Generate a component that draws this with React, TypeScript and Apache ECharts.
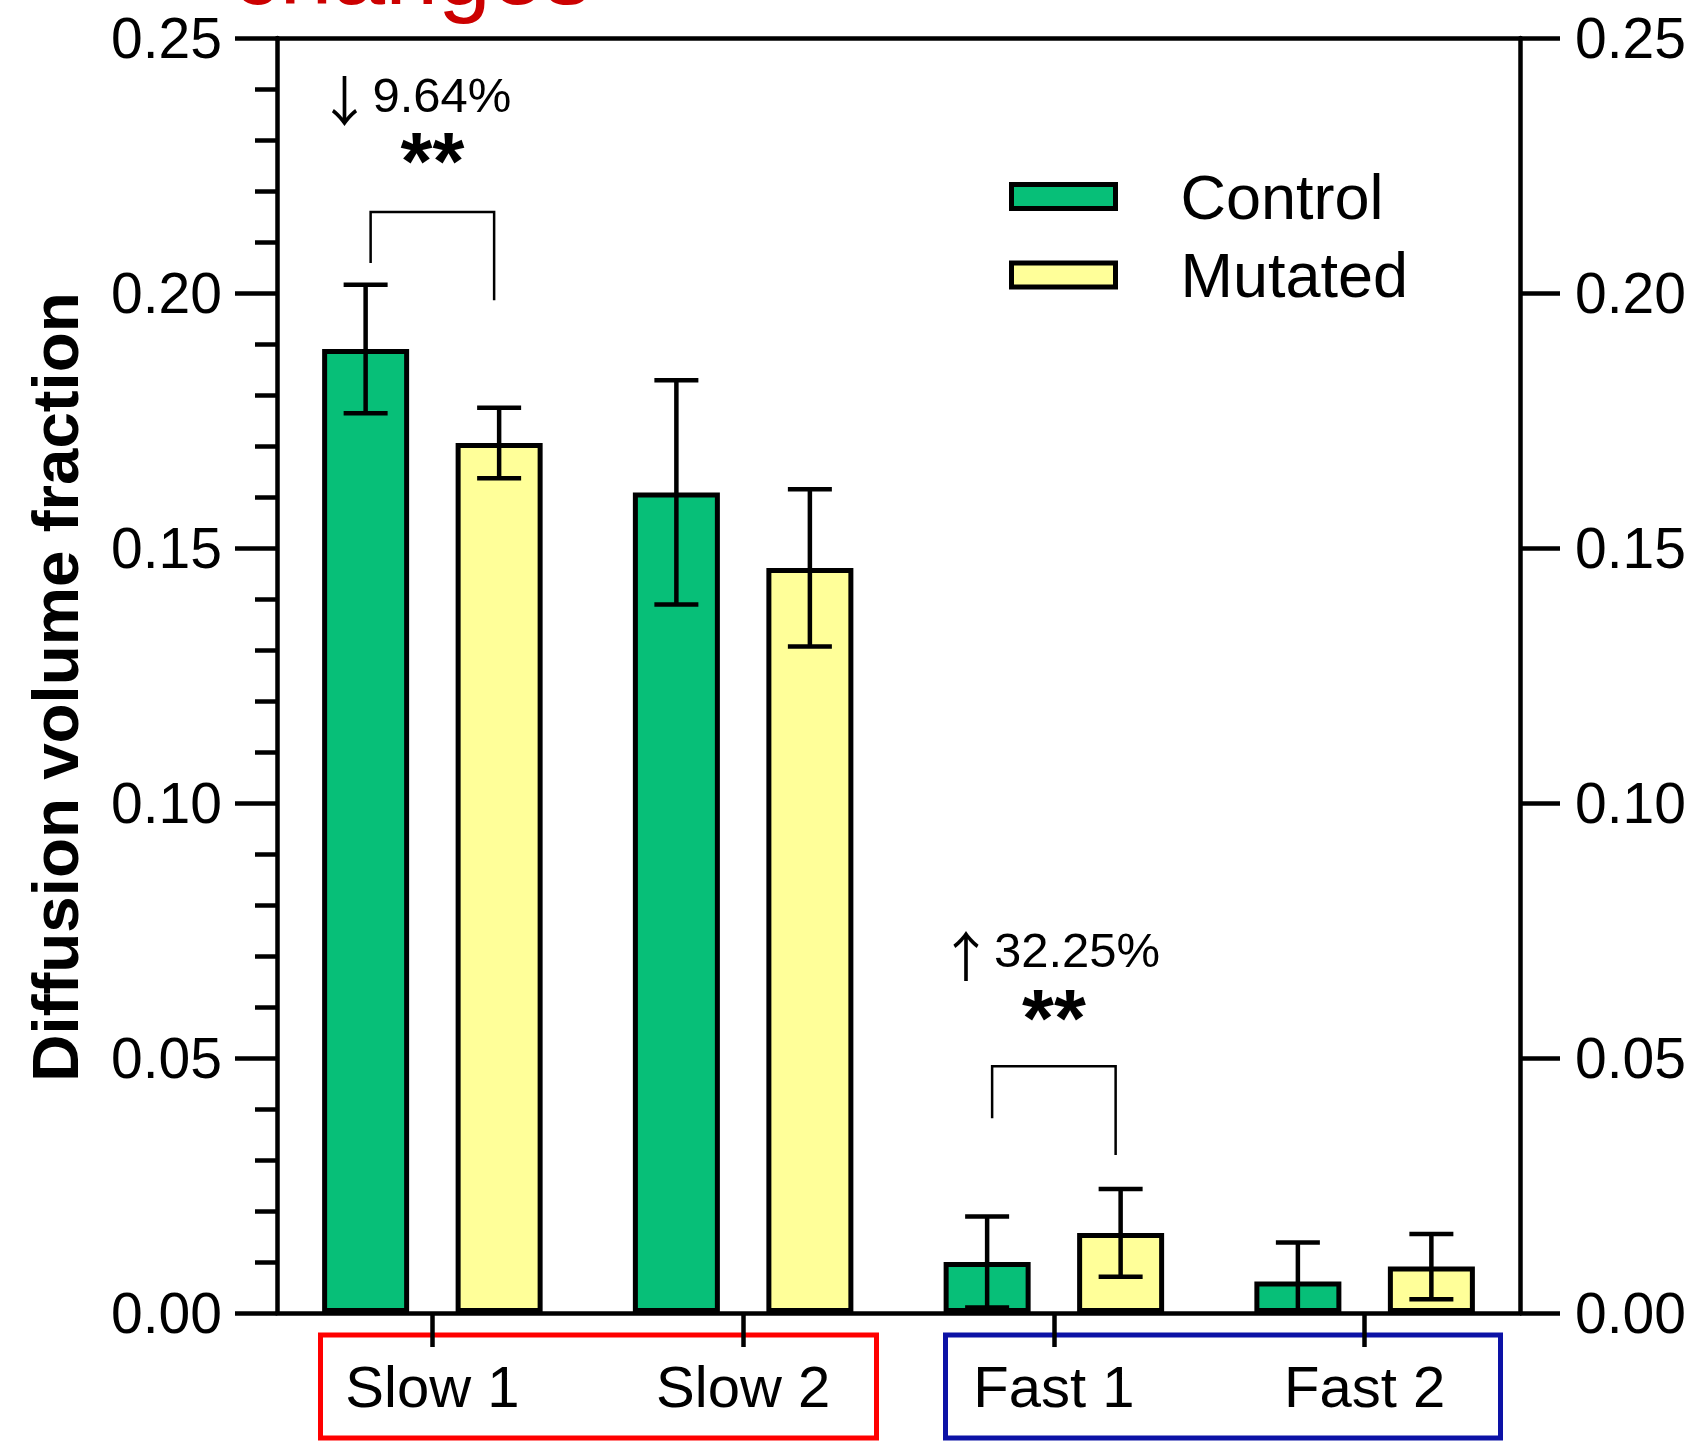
import React, { useEffect, useRef } from "react";
import * as echarts from "echarts";

// ---- data ----
const categories = ["Slow 1", "Slow 2", "Fast 1", "Fast 2"];
const seriesNames = ["Control", "Mutated"];
const controlMean = [0.189, 0.1609, 0.01, 0.0062];
const controlErr = [0.0126, 0.022, 0.0089, 0.0076];
const mutatedMean = [0.1706, 0.1461, 0.0157, 0.0091];
const mutatedErr = [0.0069, 0.0154, 0.0086, 0.0064];
const yTickLabels = ["0.00", "0.05", "0.10", "0.15", "0.20", "0.25"];
// annotations
const annotationArrows = ["\u2193", "\u2191"];
const annotationTexts = ["9.64%", "32.25%"];
const annotationStars = ["**", "**"];
const annotationCats = [0, 2];
const annotationTextY = [0.2389, 0.0712];
const annotationStarsY = [0.2278, 0.0598];
const bracketTop = [0.2159, 0.0484];
const bracketLeftBottom = [0.2059, 0.0382];
const bracketRightBottom = [0.1986, 0.031];
const topNote = "changes";

// ---- style ----
const FONT = "Liberation Sans, Arial, Helvetica, sans-serif";
const GREEN = "#07BF78";
const YELLOW = "#FFFF99";
const BAR_W = 87;
const BAR_GAP = 46.5;
const OFF = (BAR_W + BAR_GAP) / 2;
const LW = 4.5;

function errorRender(offset: number) {
  return (params: any, api: any) => {
    const c = api.value(0);
    const m = api.value(1);
    const e = api.value(2);
    const x = api.coord([c, m])[0] + offset;
    const yHi = api.coord([c, m + e])[1];
    const yLo = api.coord([c, m - e])[1];
    const cap = 22;
    const st = { stroke: "#000", lineWidth: LW, fill: null };
    return {
      type: "group",
      children: [
        { type: "line", shape: { x1: x, y1: yHi, x2: x, y2: yLo }, style: st },
        { type: "line", shape: { x1: x - cap, y1: yHi, x2: x + cap, y2: yHi }, style: st },
        { type: "line", shape: { x1: x - cap, y1: yLo, x2: x + cap, y2: yLo }, style: st },
      ],
    };
  };
}

export default function App() {
  const ref = useRef<HTMLDivElement>(null);
  useEffect(() => {
    if (!ref.current) return;
    const chart = echarts.init(ref.current, null, { renderer: "svg" });

    const annotationData = annotationCats.map((c, i) => [
      c,
      annotationTextY[i],
      annotationStarsY[i],
      bracketTop[i],
      bracketLeftBottom[i],
      bracketRightBottom[i],
    ]);

    const option: any = {
      animation: false,
      backgroundColor: "#fff",
      grid: { left: 277, right: 170, top: 38, bottom: 128, outerBoundsMode: "none", containLabel: false },
      legend: {
        data: seriesNames,
        orient: "vertical",
        left: 1009,
        top: 165,
        padding: 0,
        itemGap: 15.5,
        itemWidth: 104,
        itemHeight: 24,
        icon: "rect",
        itemStyle: { borderColor: "#000", borderWidth: 5 },
        textStyle: { fontSize: 63, lineHeight: 63, fontFamily: FONT, color: "#000", padding: [0, 0, 0, 60] },
        selectedMode: false,
      },
      xAxis: [
        {
          type: "category",
          data: categories,
          position: "bottom",
          axisLine: { show: true, lineStyle: { color: "#000", width: LW } },
          axisTick: { show: true, alignWithLabel: true, length: 34, lineStyle: { color: "#000", width: LW } },
          axisLabel: { fontSize: 58, fontFamily: FONT, color: "#000", margin: 44, interval: 0 },
          splitLine: { show: false },
        },
        {
          type: "category",
          data: categories,
          position: "top",
          axisLine: { show: true, onZero: false, lineStyle: { color: "#000", width: LW } },
          axisTick: { show: false },
          axisLabel: { show: false },
        },
      ],
      yAxis: [
        {
          type: "value",
          position: "left",
          min: 0,
          max: 0.25,
          interval: 0.05,
          name: "Diffusion volume fraction",
          nameLocation: "middle",
          nameGap: 189,
          nameTextStyle: { fontSize: 65.5, fontWeight: "bold", fontFamily: FONT, color: "#000", padding: [0, 23, 0, 0] },
          axisLine: { show: true, lineStyle: { color: "#000", width: LW } },
          axisTick: { show: true, length: 42, lineStyle: { color: "#000", width: LW } },
          minorTick: { show: true, splitNumber: 5, length: 22, lineStyle: { color: "#000", width: LW } },
          axisLabel: {
            fontSize: 57,
            fontFamily: FONT,
            color: "#000",
            margin: 55,
            formatter: (v: number) => yTickLabels[Math.round(v / 0.05)],
          },
          splitLine: { show: false },
          minorSplitLine: { show: false },
        },
        {
          type: "value",
          position: "right",
          min: 0,
          max: 0.25,
          interval: 0.05,
          axisLine: { show: true, lineStyle: { color: "#000", width: LW } },
          axisTick: { show: true, length: 40, lineStyle: { color: "#000", width: LW } },
          axisLabel: {
            fontSize: 57,
            fontFamily: FONT,
            color: "#000",
            margin: 55,
            formatter: (v: number) => yTickLabels[Math.round(v / 0.05)],
          },
          splitLine: { show: false },
        },
      ],
      series: [
        {
          name: seriesNames[0],
          type: "bar",
          data: controlMean,
          barWidth: BAR_W,
          barGap: (BAR_GAP / BAR_W) * 100 + "%",
          itemStyle: { color: GREEN, borderColor: "#000", borderWidth: 5 },
          z: 2,
        },
        {
          name: seriesNames[1],
          type: "bar",
          data: mutatedMean,
          barWidth: BAR_W,
          barGap: (BAR_GAP / BAR_W) * 100 + "%",
          itemStyle: { color: YELLOW, borderColor: "#000", borderWidth: 5 },
          z: 2,
        },
        {
          type: "custom",
          name: "errControl",
          data: controlMean.map((m, i) => [i, m, controlErr[i]]),
          encode: { x: 0, y: 1 },
          renderItem: errorRender(-OFF),
          clip: true,
          z: 5,
        },
        {
          type: "custom",
          name: "errMutated",
          data: mutatedMean.map((m, i) => [i, m, mutatedErr[i]]),
          encode: { x: 0, y: 1 },
          renderItem: errorRender(OFF),
          clip: true,
          z: 5,
        },
        {
          type: "custom",
          name: "annotations",
          data: annotationData,
          encode: { x: 0, y: 1 },
          z: 6,
          renderItem: (params: any, api: any) => {
            const i = params.dataIndex;
            const c = api.value(0);
            const cx = api.coord([c, 0])[0];
            const yText = api.coord([c, api.value(1)])[1];
            const yStars = api.coord([c, api.value(2)])[1];
            const yTop = api.coord([c, api.value(3)])[1];
            const yLB = api.coord([c, api.value(4)])[1];
            const yRB = api.coord([c, api.value(5)])[1];
            const bo = OFF - 5;
            const starSize = 82;
            const textLeft = cx - 60;
            return {
              type: "group",
              children: [
                {
                  type: "polyline",
                  shape: { points: [[cx - bo, yLB], [cx - bo, yTop], [cx + bo, yTop], [cx + bo, yRB]] },
                  style: { stroke: "#000", lineWidth: 2.5, fill: null },
                },
                {
                  type: "text",
                  x: textLeft - 28,
                  y: yText + 4,
                  style: {
                    text: annotationArrows[i],
                    fontSize: 54,
                    lineHeight: 46,
                    fontFamily: "Noto Sans CJK SC, DejaVu Sans, sans-serif",
                    fill: "#000",
                    align: "center",
                    verticalAlign: "middle",
                  },
                },
                {
                  type: "text",
                  x: textLeft,
                  y: yText,
                  style: {
                    text: annotationTexts[i],
                    fontSize: 49,
                    lineHeight: 38,
                    fontFamily: FONT,
                    fill: "#000",
                    align: "left",
                    verticalAlign: "middle",
                  },
                },
                {
                  type: "text",
                  x: cx,
                  y: yStars + 9.5,
                  style: {
                    text: annotationStars[i],
                    fontSize: starSize,
                    lineHeight: 34,
                    fontWeight: "bold",
                    fontFamily: FONT,
                    fill: "#000",
                    align: "center",
                    verticalAlign: "middle",
                  },
                },
              ],
            };
          },
        },
      ],
      graphic: [
        {
          type: "text",
          x: 232,
          y: -29,
          style: { text: topNote, fontSize: 95, fontFamily: FONT, fill: "#CC0000", align: "left", verticalAlign: "middle" },
        },
        {
          type: "rect",
          z: -1,
          shape: { x: 320.5, y: 1335, width: 556, height: 103 },
          style: { fill: "none", stroke: "#FF0000", lineWidth: 5 },
        },
        {
          type: "rect",
          z: -1,
          shape: { x: 945.5, y: 1335, width: 555, height: 103 },
          style: { fill: "none", stroke: "#0C12A6", lineWidth: 5 },
        },
      ],
    };
    chart.setOption(option);
    return () => chart.dispose();
  }, []);
  return (
    <div
      ref={ref}
      style={{ position: "absolute", left: 0, top: 0, width: 1690, height: 1441, background: "#fff" }}
    />
  );
}
